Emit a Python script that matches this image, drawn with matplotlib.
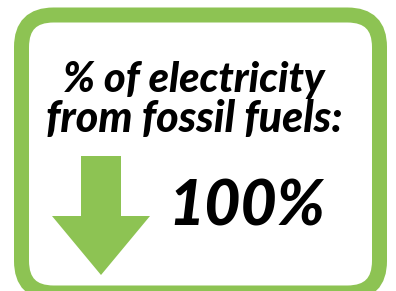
import matplotlib.pyplot as plt
from matplotlib.patches import FancyBboxPatch, Polygon

# content
title_lines = ["% of electricity", "from fossil fuels:"]
fossil_share = 100  # percent

green = "#8dc353"

fig = plt.figure(figsize=(3.96, 2.91), dpi=100)
ax = fig.add_axes([0, 0, 1, 1])
ax.set_xlim(0, 396)
ax.set_ylim(291, 0)
ax.axis("off")

# rounded frame (runs off the bottom edge)
frame = FancyBboxPatch((21.5, 15), 358, 278,
                       boxstyle="round,pad=0,rounding_size=32",
                       fc="white", ec=green, lw=15 * 72 / 100)
ax.add_patch(frame)

# down arrow
arrow = Polygon([(81, 156), (121, 156), (121, 216), (150, 216),
                 (101, 275), (52, 216), (81, 216)],
                closed=True, fc=green, ec="none")
ax.add_patch(arrow)

font = dict(family=["Lato", "DejaVu Sans"], weight="black", style="italic",
            color="black")
ax.text(194, 92, title_lines[0], ha="center", va="baseline", fontsize=30, **font)
ax.text(194, 132, title_lines[1], ha="center", va="baseline", fontsize=31, **font)
ax.text(168, 226, f"{fossil_share}%", ha="left", va="baseline", fontsize=45, **font)

fig.savefig("out.png", dpi=100)
